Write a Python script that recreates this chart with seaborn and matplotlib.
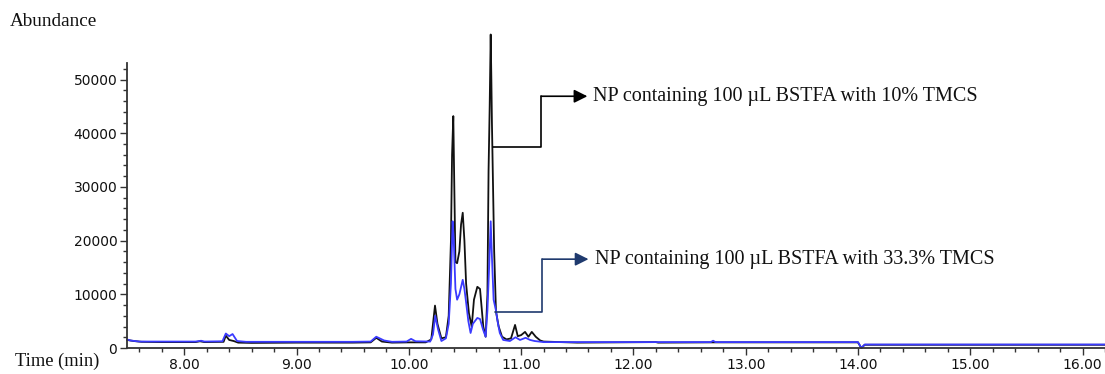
import numpy as np
import pandas as pd
import matplotlib
matplotlib.use("Agg")
import matplotlib.pyplot as plt
from matplotlib.ticker import MultipleLocator, FormatStrFormatter
import seaborn as sns

# ---------------- data ----------------
time_black = [7.49, 7.55, 7.62, 7.80, 8.10, 8.14, 8.18, 8.35, 8.37, 8.40, 8.44, 8.48,
              8.60, 9.00, 9.50, 9.66, 9.71, 9.76, 9.85, 10.00, 10.15, 10.20, 10.233,
              10.255, 10.29, 10.33, 10.355, 10.375, 10.385, 10.396, 10.405, 10.415,
              10.43, 10.45, 10.465, 10.48, 10.495, 10.51, 10.535, 10.56, 10.58, 10.61,
              10.634, 10.663, 10.684, 10.70, 10.71, 10.72, 10.729, 10.735,
              10.74, 10.75, 10.76, 10.776, 10.80, 10.83, 10.87, 10.91, 10.946, 10.97,
              11.00, 11.035, 11.065, 11.095, 11.13, 11.17, 11.20, 11.50, 12.20, 12.22,
              12.70, 14.00, 14.03, 14.06, 16.20]
abund_black = [1500, 1300, 1150, 1100, 1100, 1250, 1100, 1150, 2300, 1500, 1300, 1000,
               950, 1000, 1000, 1050, 1900, 1200, 1000, 1050, 1050, 1600, 7900,
               4500, 1800, 2000, 6000, 20000, 36000, 43200, 30000, 16000,
               15800, 18000, 23000, 25200, 20000, 12000, 6500, 4000, 9000, 11400,
               11000, 4000, 2100, 10000, 33000, 45000, 58400, 50000,
               42000, 30000, 18000, 6800, 4000, 2100, 1600, 1800, 4300, 2200,
               2400, 3000, 2100, 3000, 2100, 1400, 1200, 1000, 1100, 1000,
               1050, 1050, 0, 600, 600]

time_blue = [7.49, 7.52, 7.60, 8.10, 8.15, 8.18, 8.34, 8.37, 8.40, 8.43, 8.47, 8.55,
             9.50, 9.66, 9.71, 9.78, 9.85, 9.98, 10.02, 10.06, 10.19, 10.215, 10.235,
             10.26, 10.29, 10.33, 10.355, 10.375, 10.39, 10.40, 10.415, 10.43, 10.45,
             10.48, 10.495, 10.51, 10.53, 10.55, 10.57, 10.61, 10.634, 10.66, 10.684,
             10.70, 10.715, 10.729, 10.74, 10.755, 10.776, 10.79, 10.81, 10.84, 10.90,
             10.95, 10.99, 11.04, 11.08, 11.12, 11.20, 12.69, 12.71, 12.73, 14.00,
             14.03, 14.06, 16.20]
abund_blue = [1600, 1400, 1200, 1200, 1350, 1200, 1250, 2700, 2200, 2600, 1300, 1150,
              1150, 1200, 2100, 1400, 1150, 1200, 1700, 1250, 1200, 2500, 6000,
              3500, 1300, 1800, 4500, 12000, 23600, 20000, 11000, 9000, 10000,
              12700, 11000, 8500, 5000, 2800, 4500, 5600, 5400, 3500, 2100,
              7000, 15000, 23600, 17000, 9000, 7000, 5000, 2800, 1500, 1300,
              2000, 1500, 1900, 1500, 1300, 1100, 1100, 1350, 1100, 1100,
              0, 650, 650]

x_ticks = [8, 9, 10, 11, 12, 13, 14, 15, 16]
y_ticks = [0, 10000, 20000, 30000, 40000, 50000]

label_black = "NP containing 100 \u00b5L BSTFA with 10% TMCS"
label_blue = "NP containing 100 \u00b5L BSTFA with 33.3% TMCS"

# ---------------- figure ----------------
sns.set_style("ticks")
plt.rcParams['font.family'] = ['DejaVu Sans']

W, H = 1105, 374
fig = plt.figure(figsize=(W / 100, H / 100), dpi=100)
ax = fig.add_axes([127 / W, 26 / H, 1 - 127 / W, 284.5 / H])

df_black = pd.DataFrame({"t": time_black, "a": abund_black})
df_blue = pd.DataFrame({"t": time_blue, "a": abund_blue})

sns.lineplot(data=df_black, x="t", y="a", ax=ax, color="#111111", lw=1.3,
             sort=False, estimator=None)
sns.lineplot(data=df_blue, x="t", y="a", ax=ax, color="#3a3aff", lw=1.3,
             sort=False, estimator=None)
for ln in ax.lines:
    ln.set_clip_on(False)

ax.set_xlim(7.49, 16.2)
ax.set_ylim(0, 53000)
ax.set_xlabel("")
ax.set_ylabel("")
ax.set_xticks(x_ticks)
ax.set_yticks(y_ticks)
ax.xaxis.set_major_formatter(FormatStrFormatter("%.2f"))
ax.xaxis.set_minor_locator(MultipleLocator(0.2))
ax.yaxis.set_minor_locator(MultipleLocator(2000))
ax.tick_params(axis="both", which="major", direction="out", length=5, width=1,
               color="#333333", labelsize=10, labelcolor="#111111", pad=2)
ax.tick_params(axis="both", which="minor", direction="out", length=3, width=1,
               color="#333333")
for s in ["top", "right"]:
    ax.spines[s].set_visible(False)
for s in ["left", "bottom"]:
    ax.spines[s].set_color("#333333")
    ax.spines[s].set_linewidth(1.3)

# ---------------- annotations ----------------
serif = ["Liberation Serif", "DejaVu Serif"]
# black elbow arrow
ax.plot([10.75, 11.18, 11.18], [37400, 37400, 46900], color="black", lw=1.2,
        clip_on=False)
ax.annotate("", xy=(11.59, 46900), xytext=(11.18, 46900),
            arrowprops=dict(arrowstyle="-|>", color="black", lw=1.2,
                            mutation_scale=20, shrinkA=0, shrinkB=0))
ax.text(11.64, 46900, label_black, family=serif, fontsize=14.5, va="center",
        ha="left", color="#111111")
# blue elbow arrow
navy = "#1f3a6e"
ax.plot([10.767, 11.19, 11.19], [6660, 6660, 16550], color=navy, lw=1.2,
        clip_on=False)
ax.annotate("", xy=(11.60, 16550), xytext=(11.19, 16550),
            arrowprops=dict(arrowstyle="-|>", color=navy, lw=1.2,
                            mutation_scale=20, shrinkA=0, shrinkB=0))
ax.text(11.66, 16550, label_blue, family=serif, fontsize=14.5, va="center",
        ha="left", color="#111111")

fig.text(10 / W, 1 - 22 / H, "Abundance", family=serif, fontsize=13.8,
         va="center", ha="left", color="#111111")
fig.text(15 / W, 1 - 361 / H, "Time (min)", family=serif, fontsize=13.3,
         va="center", ha="left", color="#111111")

fig.savefig("out.png", dpi=100)
